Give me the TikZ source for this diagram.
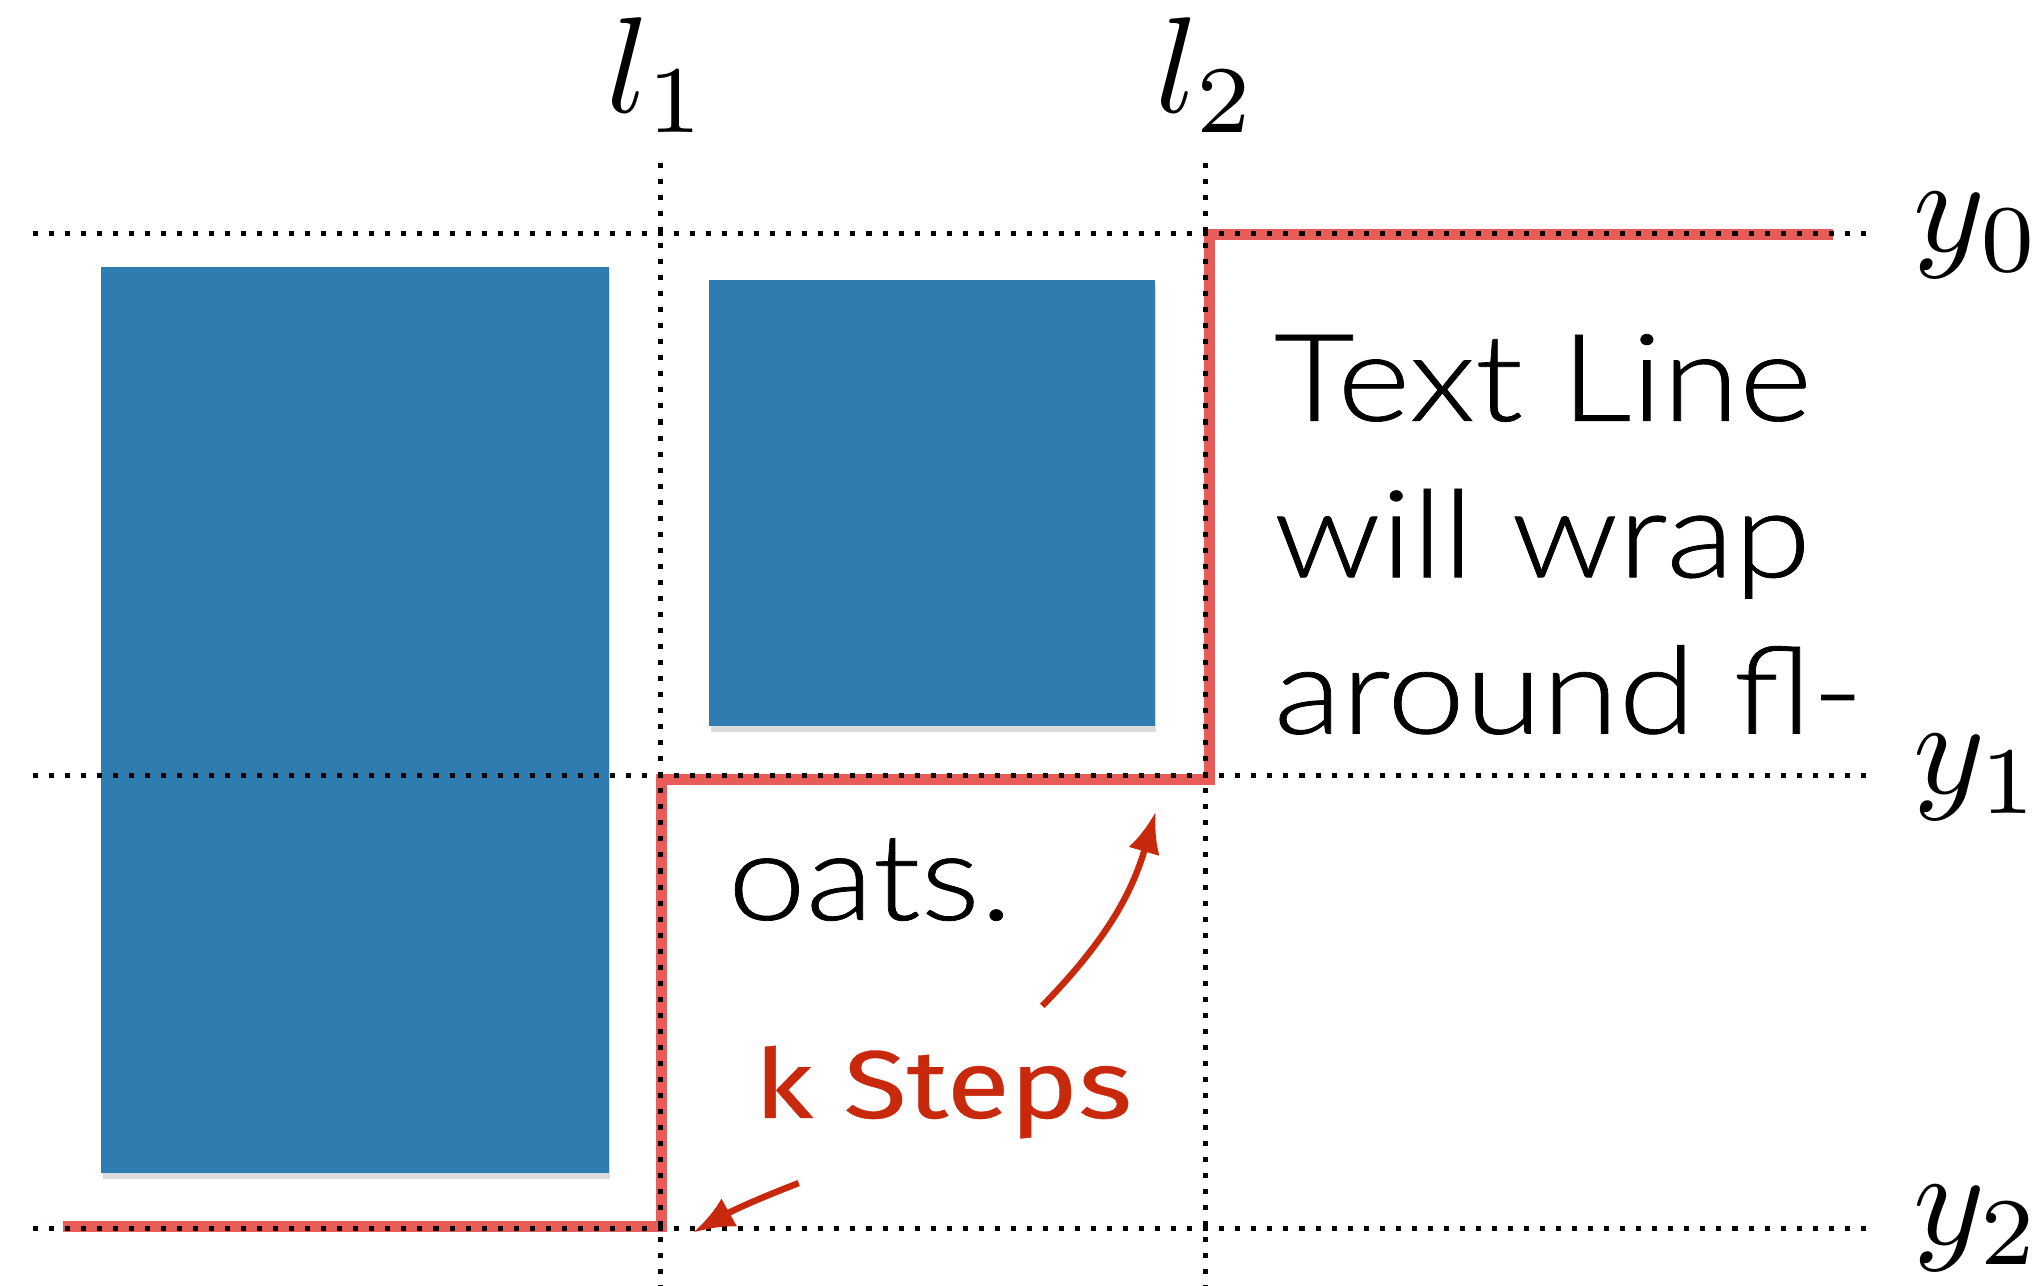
\documentclass[tikz,border=0pt]{standalone}
\usepackage{fontspec}
\newfontfamily\bodyfont[FakeStretch=1.15,FakeBold=0.6]{Lato Light}
\newfontfamily\handfont[FakeStretch=1.2,FakeBold=0.35]{Fira Sans}
\usetikzlibrary{arrows.meta,shadows}
\definecolor{boxblue}{HTML}{2F7DB0}
\definecolor{steppath}{HTML}{E85C58}
\definecolor{notered}{HTML}{C8280C}

% label of a guide line, set large
\newcommand\guidelabel[2]{\scalebox{2.98}{$#1_{#2}$}}

\begin{document}
\begin{tikzpicture}[x=0.01cm,y=-0.01cm,
  guide/.style={line width=1.1pt, dash pattern=on 1.1pt off 2.4pt},
  floatbox/.style={fill=boxblue, draw=none, inner sep=0pt,
    drop shadow={shadow xshift=0.4pt, shadow yshift=-1.4pt, opacity=0.14, fill=black}},
  flowtext/.style={anchor=base west, inner sep=0pt, font=\bodyfont\fontsize{26.5}{32}\selectfont},
  stepline/.style={draw=steppath, line width=2.4pt},
  note/.style={draw=notered, line width=1.4pt, -{Latex[length=9pt,width=7pt]}}]
\useasboundingbox (0,0) rectangle (1568,987);

% floating boxes
\node[floatbox, minimum width=3.89cm, minimum height=6.95cm] (floatA) at (272.5,552.5) {};
\node[floatbox, minimum width=3.42cm, minimum height=3.42cm] (floatB) at (715,386) {};

% text flowing around the floats
\node[flowtext] (lineA) at (977,323) {Text Line};
\node[flowtext] (lineB) at (977,443) {will wrap};
\node[flowtext] (lineC) at (977,563) {around fl-};
\node[flowtext] (lineD) at (558,706) {oats.};

% staircase boundary
\coordinate (s0) at (48,941);
\coordinate (s1) at (508,941);
\coordinate (s2) at (508,598);
\coordinate (s3) at (928,598);
\coordinate (s4) at (928,180);
\coordinate (s5) at (1407,180);
\draw[stepline] (s0) -- (s1) -- (s2) -- (s3) -- (s4) -- (s5);

% guide lines
\coordinate (l1T) at (507,125); \coordinate (l1B) at (507,990);
\coordinate (l2T) at (925,125); \coordinate (l2B) at (925,990);
\coordinate (y0L) at (25,179); \coordinate (y0R) at (1440,179);
\coordinate (y1L) at (25,595); \coordinate (y1R) at (1440,595);
\coordinate (y2L) at (25,943); \coordinate (y2R) at (1440,943);
\foreach \a/\b in {l1T/l1B,l2T/l2B,y0L/y0R,y1L/y1R,y2L/y2R}
  \draw[guide] (\a) -- (\b);

\node[anchor=base, inner sep=0pt] (labL1) at (505,86) {\guidelabel{l}{1}};
\node[anchor=base, inner sep=0pt] (labL2) at (926,86) {\guidelabel{l}{2}};
\node[anchor=base west, inner sep=0pt] (labY0) at (1468,193) {\guidelabel{y}{0}};
\node[anchor=base west, inner sep=0pt] (labY1) at (1468,609) {\guidelabel{y}{1}};
\node[anchor=base west, inner sep=0pt] (labY2) at (1468,955) {\guidelabel{y}{2}};

% annotation
\node[anchor=base west, inner sep=0pt, text=notered, font=\handfont\fontsize{21}{24}\selectfont] (ksteps) at (578,858) {k Steps};
\coordinate (upS) at (800,772);
\coordinate (upE) at (887,623);
\coordinate (dnS) at (613,908);
\coordinate (dnE) at (532,946);
\draw[note] (upS) to[bend right=14] (upE);
\draw[note] (dnS) to[bend right=4] (dnE);
\end{tikzpicture}
\end{document}
